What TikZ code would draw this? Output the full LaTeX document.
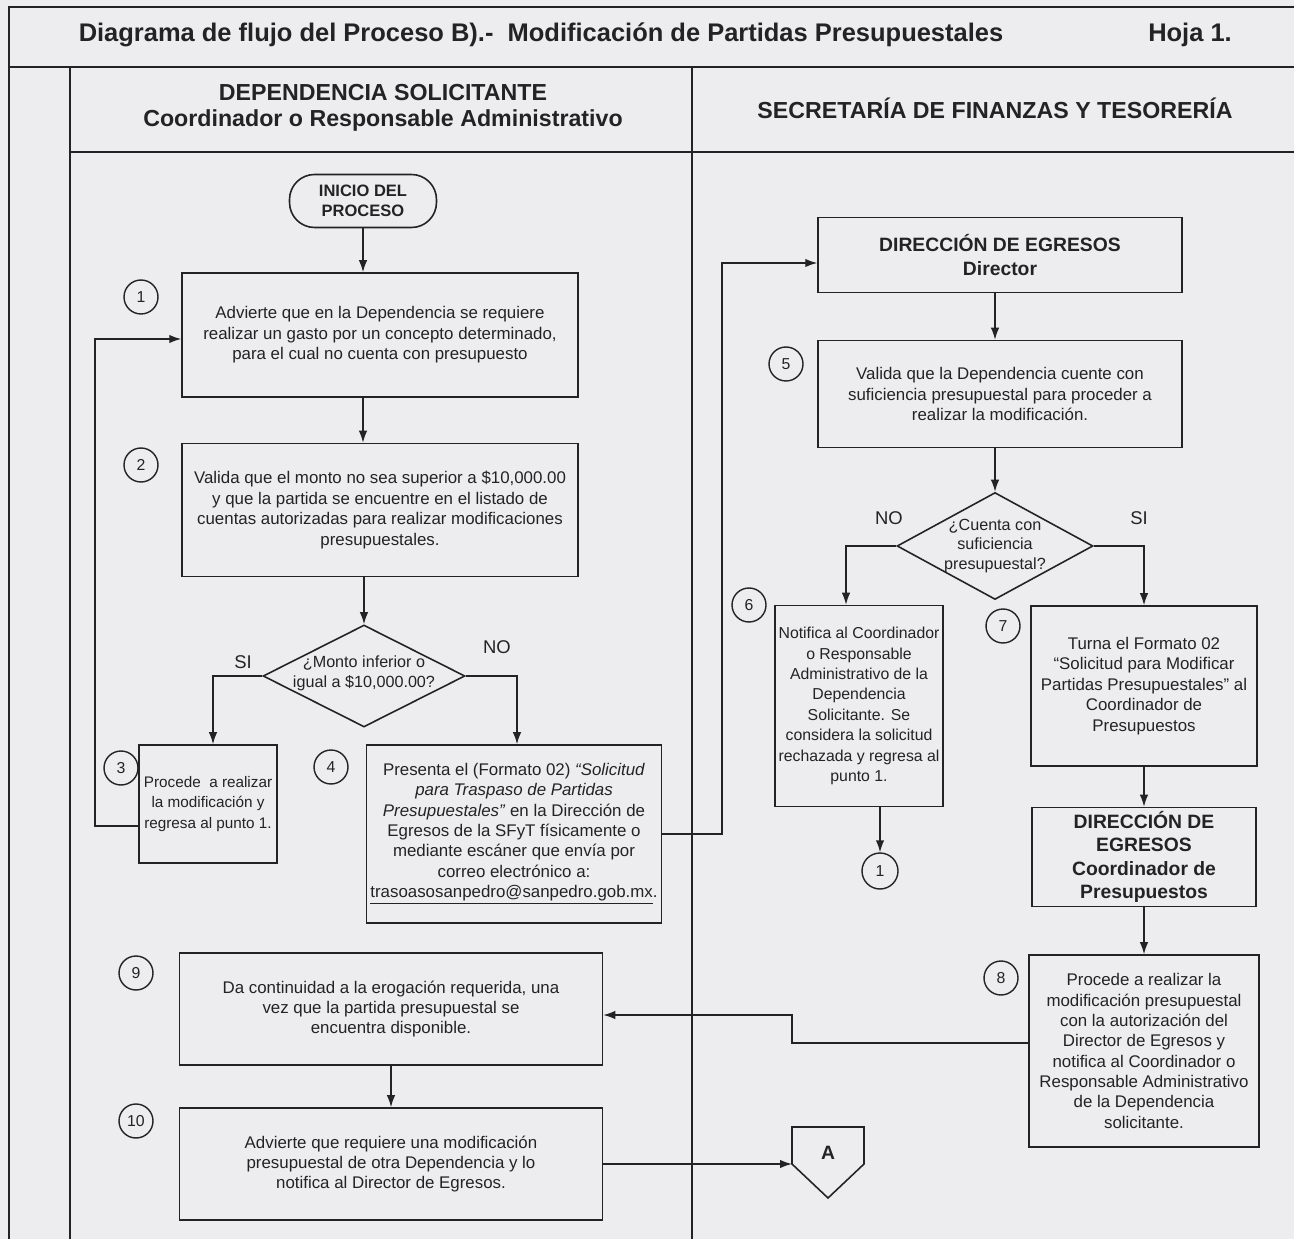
\documentclass[tikz,border=0pt]{standalone}
\usepackage{fontspec}
\setmainfont{Liberation Sans}
\usetikzlibrary{positioning,arrows.meta,shapes.geometric}

\definecolor{paper}{RGB}{237,237,240}
\definecolor{ink}{RGB}{35,35,38}

\tikzset{
  stepbox/.style={draw=ink, line width=0.9pt, align=center, inner sep=2pt, text=ink,
    font=\fontsize{9.6}{11.6}\selectfont},
  headbox/.style={stepbox, font=\bfseries\fontsize{11}{13.4}\selectfont},
  numcirc/.style={draw=ink, circle, line width=0.8pt, minimum size=0.68cm, inner sep=0pt,
    text=ink, font=\fontsize{9}{10}\selectfont},
  decision/.style={draw=ink, diamond, line width=0.9pt, inner sep=0pt},
  dtext/.style={align=center, text=ink, inner sep=0pt, font=\fontsize{9.2}{11.2}\selectfont},
  answer/.style={text=ink, font=\fontsize{10.5}{12}\selectfont},
  flow/.style={draw=ink, line width=0.8pt, ->},
  lane/.style={draw=ink, line width=1pt},
  titletext/.style={text=ink, font=\bfseries\fontsize{14.5}{16}\selectfont},
  lanehead/.style={text=ink, align=center, font=\bfseries\fontsize{13.2}{15}\selectfont}
}

\begin{document}
\begin{tikzpicture}[x=0.02cm, y=-0.02cm, >={Latex[length=2.4mm,width=1.7mm]}]
    \useasboundingbox (0,0) rectangle (1294,1239);
    \fill[paper] (0,0) rectangle (1294,1239);

    % frame and lanes
    \draw[lane] (9,1239) -- (9,7) -- (1294,7);
    \draw[lane] (9,67) -- (1294,67);
    \draw[lane] (70,67) -- (70,1239);
    \draw[lane] (692,67) -- (692,1239);
    \draw[lane] (70,152) -- (1294,152);

    \node[titletext] (title) at (541,35) {Diagrama de flujo del Proceso B).- \ Modificación de Partidas Presupuestales};
    \node[titletext] (hoja) at (1190,35) {Hoja 1.};
    \node[lanehead] (laneL) at (383,108) {DEPENDENCIA SOLICITANTE\\Coordinador o Responsable Administrativo};
    \node[lanehead] (laneR) at (995,108) {SECRETARÍA DE FINANZAS Y TESORERÍA};

    % dependencia solicitante
    \node[stepbox, rounded corners=0.5cm, minimum width=2.94cm, minimum height=1.06cm,
        font=\bfseries\fontsize{9.4}{11.2}\selectfont] (inicio) at (363,201) {INICIO DEL\\PROCESO};
    \node[stepbox, minimum width=7.92cm, minimum height=2.48cm] (b1) at (380,335)
        {Advierte que en la Dependencia se requiere\\realizar un gasto por un concepto determinado,\\para el cual no cuenta con presupuesto};
    \node[stepbox, minimum width=7.92cm, minimum height=2.66cm] (b2) at (380,510)
        {Valida que el monto no sea superior a \$10,000.00\\y que la partida se encuentre en el listado de\\cuentas autorizadas para realizar modificaciones\\presupuestales.};
    \node[decision, minimum width=4.04cm, minimum height=2.04cm] (d1) at (364,676) {};
    \node[dtext] (d1txt) at (364,673) {¿Monto inferior o\\igual a \$10,000.00?};
    \node[stepbox, minimum width=2.76cm, minimum height=2.36cm, font=\fontsize{8.7}{11.6}\selectfont] (b3) at (208,804)
        {Procede \ a realizar\\la modificación y\\regresa al punto 1.};
    \node[stepbox, minimum width=5.9cm, minimum height=3.56cm] (b4) at (514,834)
        {Presenta el (Formato 02) \textit{“Solicitud}\\\textit{para Traspaso de Partidas}\\\textit{Presupuestales”} en la Dirección de\\Egresos de la SFyT físicamente o\\mediante escáner que envía por\\correo electrónico a:\\\underline{trasoasosanpedro@sanpedro.gob.mx}.};
    \node[stepbox, minimum width=8.46cm, minimum height=2.24cm] (b9) at (391,1009)
        {Da continuidad a la erogación requerida, una\\vez que la partida presupuestal se\\encuentra disponible.};
    \node[stepbox, minimum width=8.46cm, minimum height=2.24cm] (b10) at (391,1164)
        {Advierte que requiere una modificación\\presupuestal de otra Dependencia y lo\\notifica al Director de Egresos.};

    \node[answer] (si1) at (243,662) {SI};
    \node[answer] (no1) at (497,647) {NO};

    % secretaria de finanzas
    \node[headbox, minimum width=7.28cm, minimum height=1.5cm] (dir) at (1000,255) {DIRECCIÓN DE EGRESOS\\Director};
    \node[stepbox, minimum width=7.28cm, minimum height=2.14cm] (b5) at (1000,394)
        {Valida que la Dependencia cuente con\\suficiencia presupuestal para proceder a\\realizar la modificación.};
    \node[decision, minimum width=3.92cm, minimum height=2.14cm] (d2) at (995,546) {};
    \node[dtext] (d2txt) at (995,546) {¿Cuenta con\\suficiencia\\presupuestal?};
    \node[stepbox, minimum width=3.32cm, minimum height=4.02cm, font=\fontsize{9}{11.6}\selectfont] (b6) at (859,706)
        {Notifica al Coordinador\\o Responsable\\Administrativo de la\\Dependencia\\Solicitante. Se\\considera la solicitud\\rechazada y regresa al\\punto 1.};
    \node[stepbox, minimum width=4.52cm, minimum height=3.2cm] (b7) at (1144,686)
        {Turna el Formato 02\\“Solicitud para Modificar\\Partidas Presupuestales” al\\Coordinador de\\Presupuestos};
    \node[headbox, minimum width=4.48cm, minimum height=1.98cm] (dir2) at (1144,857)
        {DIRECCIÓN DE\\EGRESOS\\Coordinador de\\Presupuestos};
    \node[stepbox, minimum width=4.6cm, minimum height=3.84cm] (b8) at (1144,1051)
        {Procede a realizar la\\modificación presupuestal\\con la autorización del\\Director de Egresos y\\notifica al Coordinador o\\Responsable Administrativo\\de la Dependencia\\solicitante.};
    \node[numcirc, minimum size=0.72cm] (c1) at (880,871) {1};

    \node[answer] (no2) at (889,518) {NO};
    \node[answer] (si2) at (1139,518) {SI};

    % step numbers
    \node[numcirc] (n1) at (141,297) {1};
    \node[numcirc] (n2) at (141,465) {2};
    \node[numcirc] (n3) at (121,768) {3};
    \node[numcirc] (n4) at (331,767) {4};
    \node[numcirc] (n5) at (786,364) {5};
    \node[numcirc] (n6) at (749,605) {6};
    \node[numcirc] (n7) at (1003,626) {7};
    \node[numcirc] (n8) at (1001,978) {8};
    \node[numcirc] (n9) at (136,973) {9};
    \node[numcirc] (n10) at (136,1121) {10};

    % off-page connector
    \draw[draw=ink, line width=0.9pt] (792,1127) -- (864,1127) -- (864,1164) -- (828,1198) -- (792,1164) -- cycle;
    \node[text=ink, font=\bfseries\fontsize{11}{12}\selectfont] (offA) at (828,1153) {A};
    \coordinate (offAin) at (792,1164);

    \coordinate (loopL) at (95,339);
    \coordinate (loopR) at (722,263);
    \coordinate (jog) at (792,1015);

    % connectors
    \draw[flow] (inicio) -- (inicio |- b1.north);
    \draw[flow] (b1.south -| inicio) -- (inicio |- b2.north);
    \draw[flow] (b2.south -| d1.north) -- (d1.north);
    \draw[flow] (d1.west) -| ([xshift=0.1cm]b3.north);
    \draw[flow] (d1.east) -| ([xshift=0.06cm]b4.north);
    \draw[flow] ([yshift=-0.44cm]b3.west) -| (loopL) -- (loopL -| b1.west);
    \draw[flow] (b4.east) -| (loopR) -- (loopR -| dir.west);
    \draw[flow] (dir.south -| d2.north) -- (d2.north |- b5.north);
    \draw[flow] (b5.south -| d2.north) -- (d2.north);
    \draw[flow] (d2.west) -| ([xshift=-0.26cm]b6.north);
    \draw[flow] (d2.east) -| (b7.north);
    \draw[flow] (b6.south -| c1) -- (c1);
    \draw[flow] (b7) -- (dir2);
    \draw[flow] (dir2) -- (b8);
    \draw[flow] ([yshift=0.16cm]b8.west) -| (jog) -- (jog -| b9.east);
    \draw[flow] (b9) -- (b10);
    \draw[flow] (b10.east) -- (offAin);
\end{tikzpicture}
\end{document}
